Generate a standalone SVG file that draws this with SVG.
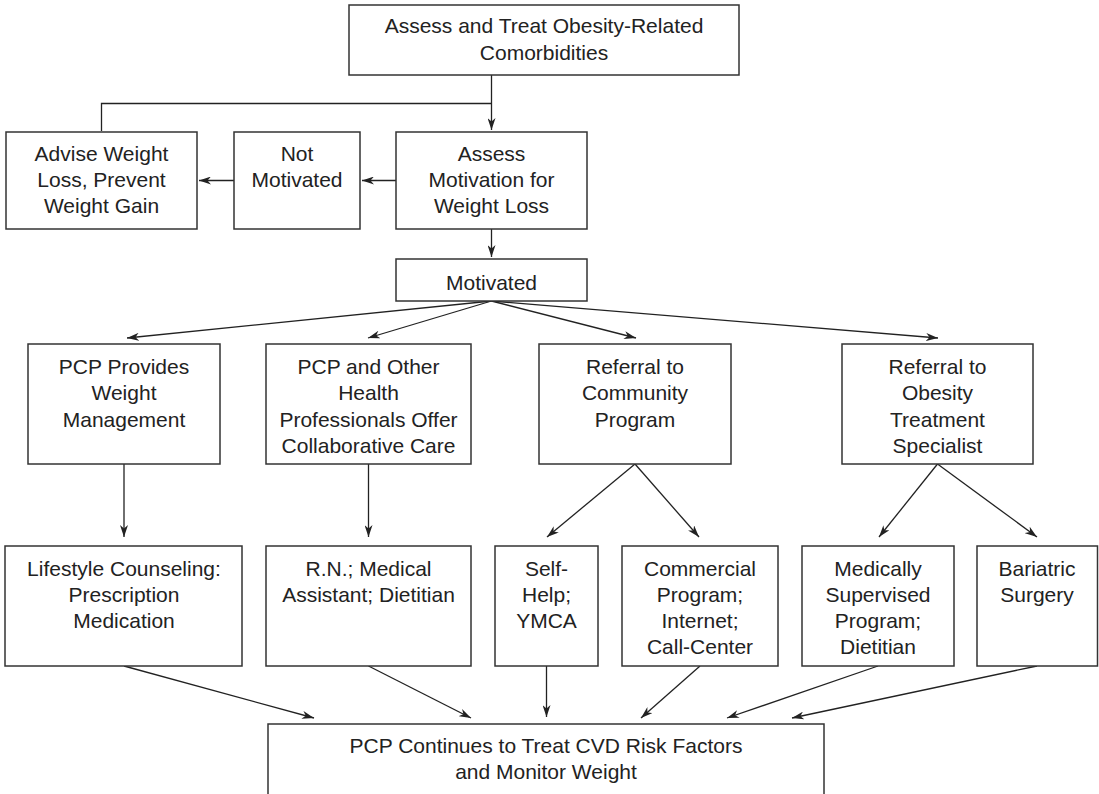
<svg xmlns="http://www.w3.org/2000/svg" width="1099" height="794" viewBox="0 0 1099 794">
  <style>
    .box { fill: #ffffff; stroke: #333333; stroke-width: 1.5; }
    .lbl { font-family: "Liberation Sans", Arial, sans-serif; font-size: 21px; fill: #222222; text-anchor: middle; }
    .wire { fill: none; stroke: #222222; stroke-width: 1.3; }
  </style>
  <defs>
    <marker id="ah" viewBox="0 0 12 8" refX="12" refY="4" markerWidth="12" markerHeight="8" markerUnits="userSpaceOnUse" orient="auto">
      <path d="M0,0 L12,4 L0,8 L3.5,4 Z" fill="#222222"/>
    </marker>
  </defs>
  <rect width="1099" height="794" fill="#ffffff"/>

  <!-- connectors -->
  <g id="connectors">
    <path class="wire" d="M491.5,75 V130" marker-end="url(#ah)"/>
    <path class="wire" d="M101.5,131 V103.5 H491.5"/>
    <path class="wire" d="M396,180.5 H362" marker-end="url(#ah)"/>
    <path class="wire" d="M234,180.5 H199" marker-end="url(#ah)"/>
    <path class="wire" d="M491.5,229 V257" marker-end="url(#ah)"/>
    <path class="wire" d="M491.5,301 L127,338" marker-end="url(#ah)"/>
    <path class="wire" d="M491.5,301 L368,338" marker-end="url(#ah)"/>
    <path class="wire" d="M491.5,301 L636,338" marker-end="url(#ah)"/>
    <path class="wire" d="M491.5,301 L938,338" marker-end="url(#ah)"/>
    <path class="wire" d="M124,464 V537" marker-end="url(#ah)"/>
    <path class="wire" d="M368.5,464 V537" marker-end="url(#ah)"/>
    <path class="wire" d="M635,464 L547,537" marker-end="url(#ah)"/>
    <path class="wire" d="M635,464 L699,537" marker-end="url(#ah)"/>
    <path class="wire" d="M937.5,464 L879,537" marker-end="url(#ah)"/>
    <path class="wire" d="M937.5,464 L1037,537" marker-end="url(#ah)"/>
    <path class="wire" d="M124,666 L314,718" marker-end="url(#ah)"/>
    <path class="wire" d="M368.5,666 L471,718" marker-end="url(#ah)"/>
    <path class="wire" d="M546.5,666 V717" marker-end="url(#ah)"/>
    <path class="wire" d="M700,666 L641,718" marker-end="url(#ah)"/>
    <path class="wire" d="M878,666 L727,718" marker-end="url(#ah)"/>
    <path class="wire" d="M1037,666 L792,718" marker-end="url(#ah)"/>
  </g>

  <g id="assess-comorbidities">
    <rect class="box" x="349" y="5" width="390" height="70"/>
    <text class="lbl" x="544" y="33">Assess and Treat Obesity-Related</text>
    <text class="lbl" x="544" y="60">Comorbidities</text>
  </g>

  <g id="advise-weight-loss">
    <rect class="box" x="6" y="132" width="191" height="97"/>
    <text class="lbl" x="101.5" y="161">Advise Weight</text>
    <text class="lbl" x="101.5" y="187">Loss, Prevent</text>
    <text class="lbl" x="101.5" y="213">Weight Gain</text>
  </g>

  <g id="not-motivated">
    <rect class="box" x="234" y="132" width="126" height="97"/>
    <text class="lbl" x="297" y="161">Not</text>
    <text class="lbl" x="297" y="187">Motivated</text>
  </g>

  <g id="assess-motivation">
    <rect class="box" x="396" y="132" width="191" height="97"/>
    <text class="lbl" x="491.5" y="161">Assess</text>
    <text class="lbl" x="491.5" y="187">Motivation for</text>
    <text class="lbl" x="491.5" y="213">Weight Loss</text>
  </g>

  <g id="motivated">
    <rect class="box" x="396" y="259" width="191" height="42"/>
    <text class="lbl" x="491.5" y="290">Motivated</text>
  </g>

  <g id="pcp-provides">
    <rect class="box" x="28" y="344" width="192" height="120"/>
    <text class="lbl" x="124" y="374">PCP Provides</text>
    <text class="lbl" x="124" y="400">Weight</text>
    <text class="lbl" x="124" y="427">Management</text>
  </g>

  <g id="pcp-collaborative">
    <rect class="box" x="266" y="344" width="205" height="120"/>
    <text class="lbl" x="368.5" y="374">PCP and Other</text>
    <text class="lbl" x="368.5" y="400">Health</text>
    <text class="lbl" x="368.5" y="427">Professionals Offer</text>
    <text class="lbl" x="368.5" y="453">Collaborative Care</text>
  </g>

  <g id="referral-community">
    <rect class="box" x="539" y="344" width="192" height="120"/>
    <text class="lbl" x="635" y="374">Referral to</text>
    <text class="lbl" x="635" y="400">Community</text>
    <text class="lbl" x="635" y="427">Program</text>
  </g>

  <g id="referral-specialist">
    <rect class="box" x="842" y="344" width="191" height="120"/>
    <text class="lbl" x="937.5" y="374">Referral to</text>
    <text class="lbl" x="937.5" y="400">Obesity</text>
    <text class="lbl" x="937.5" y="427">Treatment</text>
    <text class="lbl" x="937.5" y="453">Specialist</text>
  </g>

  <g id="lifestyle-counseling">
    <rect class="box" x="5" y="546" width="237" height="120"/>
    <text class="lbl" x="124" y="576">Lifestyle Counseling:</text>
    <text class="lbl" x="124" y="602">Prescription</text>
    <text class="lbl" x="124" y="628">Medication</text>
  </g>

  <g id="rn-assistant">
    <rect class="box" x="266" y="546" width="205" height="120"/>
    <text class="lbl" x="368.5" y="576">R.N.; Medical</text>
    <text class="lbl" x="368.5" y="602">Assistant; Dietitian</text>
  </g>

  <g id="self-help">
    <rect class="box" x="495" y="546" width="103" height="120"/>
    <text class="lbl" x="546.5" y="576">Self-</text>
    <text class="lbl" x="546.5" y="602">Help;</text>
    <text class="lbl" x="546.5" y="628">YMCA</text>
  </g>

  <g id="commercial-program">
    <rect class="box" x="622" y="546" width="156" height="120"/>
    <text class="lbl" x="700" y="576">Commercial</text>
    <text class="lbl" x="700" y="602">Program;</text>
    <text class="lbl" x="700" y="628">Internet;</text>
    <text class="lbl" x="700" y="654">Call-Center</text>
  </g>

  <g id="medically-supervised">
    <rect class="box" x="802" y="546" width="152" height="120"/>
    <text class="lbl" x="878" y="576">Medically</text>
    <text class="lbl" x="878" y="602">Supervised</text>
    <text class="lbl" x="878" y="628">Program;</text>
    <text class="lbl" x="878" y="654">Dietitian</text>
  </g>

  <g id="bariatric-surgery">
    <rect class="box" x="977" y="546" width="120.5" height="120"/>
    <text class="lbl" x="1037" y="576">Bariatric</text>
    <text class="lbl" x="1037" y="602">Surgery</text>
  </g>

  <g id="pcp-continues">
    <rect class="box" x="268" y="724" width="556" height="90"/>
    <text class="lbl" x="546" y="753">PCP Continues to Treat CVD Risk Factors</text>
    <text class="lbl" x="546" y="779">and Monitor Weight</text>
  </g>
</svg>
